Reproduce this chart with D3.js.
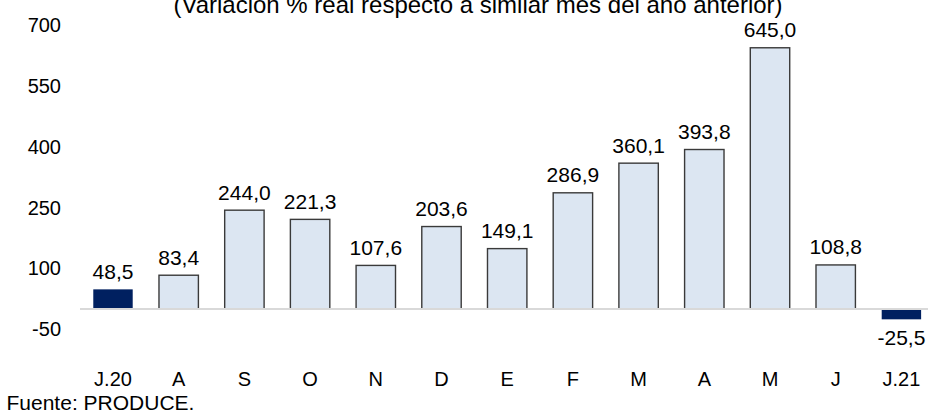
<!DOCTYPE html>
<html>
<head>
<meta charset="utf-8">
<script src="https://cdn.jsdelivr.net/npm/d3@7"></script>
<style>
  html, body { margin: 0; padding: 0; background: #fff; }
  svg { display: block; font-family: "Liberation Sans", Arial, sans-serif; }
</style>
</head>
<body>
<svg id="chart" width="928" height="412"></svg>
<script>
// ---- data ----
const categories = ["J.20", "A", "S", "O", "N", "D", "E", "F", "M", "A", "M", "J", "J.21"];
const values = [48.5, 83.4, 244.0, 221.3, 107.6, 203.6, 149.1, 286.9, 360.1, 393.8, 645.0, 108.8, -25.5];
const highlighted = [true, false, false, false, false, false, false, false, false, false, false, false, true];
const yTicks = [700, 550, 400, 250, 100, -50];
const title = "(Variación % real respecto a similar mes del año anterior)";
const source = "Fuente: PRODUCE.";

// ---- layout ----
const W = 928, H = 412;
const svg = d3.select("#chart");

const x = d3.scaleBand()
  .domain(d3.range(categories.length))
  .range([67, 947.4])
  .paddingInner(0.4)
  .paddingOuter(0.4);

const y = d3.scaleLinear()
  .domain([-50, 700])
  .range([329.25, 25.5]);

const fmt = v => d3.format(".1f")(v).replace(".", ",").replace("\u2212", "-");
const fmtTick = v => d3.format("d")(v).replace("\u2212", "-");

// title
svg.append("text")
  .attr("x", 478)
  .attr("y", 12.5)
  .attr("text-anchor", "middle")
  .attr("font-size", 24)
  .attr("fill", "#000")
  .text(title);

// y axis labels (no line)
const yAxis = d3.axisLeft(y).tickValues(yTicks).tickSize(0).tickPadding(0).tickFormat(fmtTick);
const yg = svg.append("g").attr("transform", "translate(61,0)").call(yAxis);
yg.select(".domain").remove();
yg.selectAll("text").attr("font-size", 20).attr("fill", "#000").attr("font-family", "Liberation Sans, Arial, sans-serif");

// bars
const bars = svg.append("g");
bars.selectAll("rect")
  .data(values)
  .join("rect")
  .attr("x", (d, i) => x(i))
  .attr("width", x.bandwidth())
  .attr("y", d => y(Math.max(0, d)))
  .attr("height", d => Math.abs(y(d) - y(0)))
  .attr("fill", (d, i) => highlighted[i] ? "#002060" : "#dce6f2")
  .attr("stroke", (d, i) => highlighted[i] ? "none" : "#3a3a3a")
  .attr("stroke-width", 1.4);

// zero line
svg.append("line")
  .attr("x1", 80).attr("x2", W)
  .attr("y1", y(0)).attr("y2", y(0))
  .attr("stroke", "#d9d9d9")
  .attr("stroke-width", 2);

// value labels
svg.append("g").selectAll("text")
  .data(values)
  .join("text")
  .attr("x", (d, i) => x(i) + x.bandwidth() / 2)
  .attr("y", d => d >= 0 ? y(d) - 10.5 : y(d) + 26)
  .attr("text-anchor", "middle")
  .attr("font-size", 21)
  .attr("fill", "#000")
  .text(d => fmt(d));

// x axis labels
const xAxis = d3.axisBottom(x).tickSize(0).tickPadding(0).tickFormat(i => categories[i]);
const xg = svg.append("g").attr("transform", "translate(0,372)").call(xAxis);
xg.select(".domain").remove();
xg.selectAll("text").attr("font-size", 20).attr("fill", "#000").attr("font-family", "Liberation Sans, Arial, sans-serif");

// source
svg.append("text")
  .attr("x", 6.5)
  .attr("y", 410)
  .attr("font-size", 21)
  .attr("fill", "#000")
  .text(source);
</script>
</body>
</html>
